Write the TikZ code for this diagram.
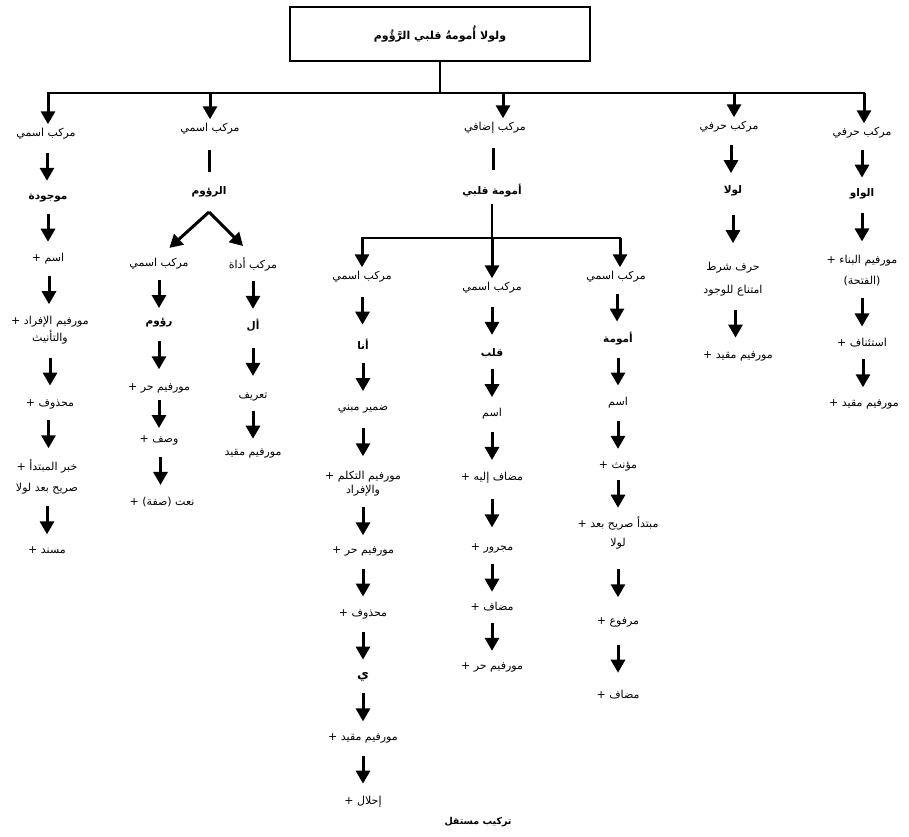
\documentclass[tikz,border=0pt]{standalone}
\usepackage{fontspec}
\newfontfamily\arabicfont[Script=Arabic]{DejaVu Sans}
\TeXXeTstate=1
\usetikzlibrary{arrows.meta,calc}
\newcommand{\artxt}[1]{\beginR#1\endR}
\newcommand{\myarrow}[2]{\draw[arr] ($(#1.south)!.5!(#2.north)+(0,-14)$) -- ($(#1.south)!.5!(#2.north)+(0,14)$);}
\newcommand{\myline}[2]{\draw[ln] ($(#1.south)!.5!(#2.north)+(0,-11)$) -- ($(#1.south)!.5!(#2.north)+(0,11)$);}
\begin{document}
\begin{tikzpicture}[x=1pt,y=-1pt,
  txt/.style={font=\arabicfont\fontsize{11}{13}\selectfont, inner sep=1pt, align=center},
  bld/.style={font=\arabicfont\bfseries\fontsize{10.5}{13}\selectfont, inner sep=1pt, align=center},
  arr/.style={line width=3pt, -{Triangle[width=14pt,length=13pt]}},
  ln/.style={line width=2.6pt}]
\useasboundingbox (0,0) rectangle (909,836);
\fill[white] (0,0) rectangle (909,836);

% top box
\node[draw, line width=2.6pt, minimum width=300pt, minimum height=54pt,
      font=\arabicfont\bfseries\fontsize{11}{13}\selectfont] (top) at (440,34)
      {\artxt{ولولا أُمومةُ قلبي الرَّؤُوم}};
\coordinate (b1) at (48,93);
\coordinate (b2) at (210,93);
\coordinate (b3) at (503,93);
\coordinate (b4) at (734,93);
\coordinate (b5) at (864,93);
\draw[ln, line cap=rect] (b1) -- (b5);
\draw[ln] (top) -- (top |- b1);

% column 1
\node[txt] (c1a) at (46,134) {\artxt{مركب اسمي}};
\node[bld] (c1b) at (48,198) {\artxt{موجودة}};
\node[txt] (c1c) at (48,259) {\artxt{اسم +}};
\node[txt] (c1d) at (50,330) {\artxt{مورفيم الإفراد +}\\[2pt]\artxt{والتأنيث}};
\node[txt] (c1e) at (50,404) {\artxt{محذوف +}};
\node[txt] (c1f) at (47,477) {\artxt{خبر المبتدأ +}\\[8pt]\artxt{صريح بعد لولا}};
\node[txt] (c1g) at (47,550) {\artxt{مسند +}};
\draw[arr, shorten >=3pt] (b1) -- (b1 |- c1a.north);
\myarrow{c1a}{c1b}
\myarrow{c1b}{c1c}
\myarrow{c1c}{c1d}
\myarrow{c1d}{c1e}
\myarrow{c1e}{c1f}
\myarrow{c1f}{c1g}

% column 2
\node[txt] (c2a) at (210,129) {\artxt{مركب اسمي}};
\node[bld] (c2b) at (209,192) {\artxt{الرؤوم}};
\myline{c2a}{c2b}
\draw[arr, shorten >=3pt] (b2) -- (b2 |- c2a.north);
\coordinate (apex) at (209,212);
\node[txt] (c2c) at (159,264) {\artxt{مركب اسمي}};
\node[txt] (c2d) at (253,264) {\artxt{مركب أداة}};
\draw[arr, shorten >=14pt] (apex) -- (c2c.north);
\draw[arr, shorten >=14pt] (apex) -- (c2d.north);
\node[bld] (c2e) at (159,323) {\artxt{رؤوم}};
\node[txt] (c2g) at (159,388) {\artxt{مورفيم حر +}};
\node[txt] (c2i) at (159,440) {\artxt{وصف +}};
\node[txt] (c2k) at (162,502) {\artxt{نعت (صفة) +}};
\myarrow{c2c}{c2e}
\myarrow{c2e}{c2g}
\myarrow{c2g}{c2i}
\myarrow{c2i}{c2k}
\node[bld] (c2f) at (253,325) {\artxt{أل}};
\node[txt] (c2h) at (253,397) {\artxt{تعريف}};
\node[txt] (c2j) at (253,453) {\artxt{مورفيم مقيد}};
\myarrow{c2d}{c2f}
\myarrow{c2f}{c2h}
\myarrow{c2h}{c2j}

% column 3
\node[txt] (c3a) at (495,128) {\artxt{مركب إضافي}};
\node[bld] (c3b) at (492,191) {\artxt{أمومة قلبي}};
\draw[arr, shorten >=3pt] (b3) -- (b3 |- c3a.north);
\myline{c3a}{c3b}
\coordinate (j3) at (492,238);
\coordinate (j3l) at (362,238);
\coordinate (j3r) at (620,238);
\draw[ln, shorten <=5pt] (c3b) -- (j3);
\draw[ln, line cap=rect] (j3l) -- (j3r);
\node[txt] (m1a) at (362,277) {\artxt{مركب اسمي}};
\node[txt] (m2a) at (492,288) {\artxt{مركب اسمي}};
\node[txt] (m3a) at (616,277) {\artxt{مركب اسمي}};
\draw[arr, shorten >=3pt] (j3l) -- (j3l |- m1a.north);
\draw[arr, shorten >=3pt] (j3) -- (j3 |- m2a.north);
\draw[arr, shorten >=3pt] (j3r) -- (j3r |- m3a.north);

% sub-column left
\node[bld] (m1b) at (363,344) {\artxt{أنا}};
\node[txt] (m1c) at (363,409) {\artxt{ضمير مبني}};
\node[txt] (m1d) at (363,484) {\artxt{مورفيم التكلم +}\\[1pt]\artxt{والإفراد}};
\node[txt] (m1e) at (363,551) {\artxt{مورفيم حر +}};
\node[txt] (m1f) at (363,614) {\artxt{محذوف +}};
\node[bld, font=\arabicfont\bfseries\fontsize{13}{14}\selectfont] (m1g) at (363,677) {\artxt{ي}};
\node[txt] (m1h) at (363,738) {\artxt{مورفيم مقيد +}};
\node[txt] (m1i) at (363,802) {\artxt{إحلال +}};
\myarrow{m1a}{m1b}
\myarrow{m1b}{m1c}
\myarrow{m1c}{m1d}
\myarrow{m1d}{m1e}
\myarrow{m1e}{m1f}
\myarrow{m1f}{m1g}
\myarrow{m1g}{m1h}
\myarrow{m1h}{m1i}

% sub-column middle
\node[bld] (m2b) at (492,353) {\artxt{قلب}};
\node[txt] (m2c) at (492,414) {\artxt{اسم}};
\node[txt] (m2d) at (492,478) {\artxt{مضاف إليه +}};
\node[txt] (m2e) at (492,548) {\artxt{مجرور +}};
\node[txt] (m2f) at (492,607) {\artxt{مضاف +}};
\node[txt] (m2g) at (492,667) {\artxt{مورفيم حر +}};
\myarrow{m2a}{m2b}
\myarrow{m2b}{m2c}
\myarrow{m2c}{m2d}
\myarrow{m2d}{m2e}
\myarrow{m2e}{m2f}
\myarrow{m2f}{m2g}

% sub-column right
\node[bld] (m3b) at (618,339) {\artxt{أمومة}};
\node[txt] (m3c) at (618,403) {\artxt{اسم}};
\node[txt] (m3d) at (618,466) {\artxt{مؤنث +}};
\node[txt] (m3e) at (618,533) {\artxt{مبتدأ صريح بعد +}\\[6pt]\artxt{لولا}};
\node[txt] (m3f) at (618,622) {\artxt{مرفوع +}};
\node[txt] (m3g) at (618,695) {\artxt{مضاف +}};
\myarrow{m3a}{m3b}
\myarrow{m3b}{m3c}
\myarrow{m3c}{m3d}
\myarrow{m3d}{m3e}
\myarrow{m3e}{m3f}
\myarrow{m3f}{m3g}

% column 4
\node[txt] (c4a) at (729,127) {\artxt{مركب حرفي}};
\node[bld] (c4b) at (733,191) {\artxt{لولا}};
\node[txt] (c4c) at (733,279) {\artxt{حرف شرط}\\[10pt]\artxt{امتناع للوجود}};
\node[txt] (c4d) at (738,356) {\artxt{مورفيم مقيد +}};
\draw[arr, shorten >=3pt] (b4) -- (b4 |- c4a.north);
\myarrow{c4a}{c4b}
\myarrow{c4b}{c4c}
\myarrow{c4c}{c4d}

% column 5
\node[txt] (c5a) at (862,133) {\artxt{مركب حرفي}};
\node[bld] (c5b) at (862,194) {\artxt{الواو}};
\node[txt] (c5c) at (862,271) {\artxt{مورفيم البناء +}\\[8pt]\artxt{(الفتحة)}};
\node[txt] (c5d) at (862,343) {\artxt{استئناف +}};
\node[txt] (c5e) at (864,404) {\artxt{مورفيم مقيد +}};
\draw[arr, shorten >=3pt] (b5) -- (b5 |- c5a.north);
\myarrow{c5a}{c5b}
\myarrow{c5b}{c5c}
\myarrow{c5c}{c5d}
\myarrow{c5d}{c5e}

% bottom
\node[font=\arabicfont\bfseries\fontsize{9.5}{12}\selectfont, inner sep=1pt] (bot) at (478,822) {\artxt{تركيب مستقل}};
\end{tikzpicture}
\end{document}
